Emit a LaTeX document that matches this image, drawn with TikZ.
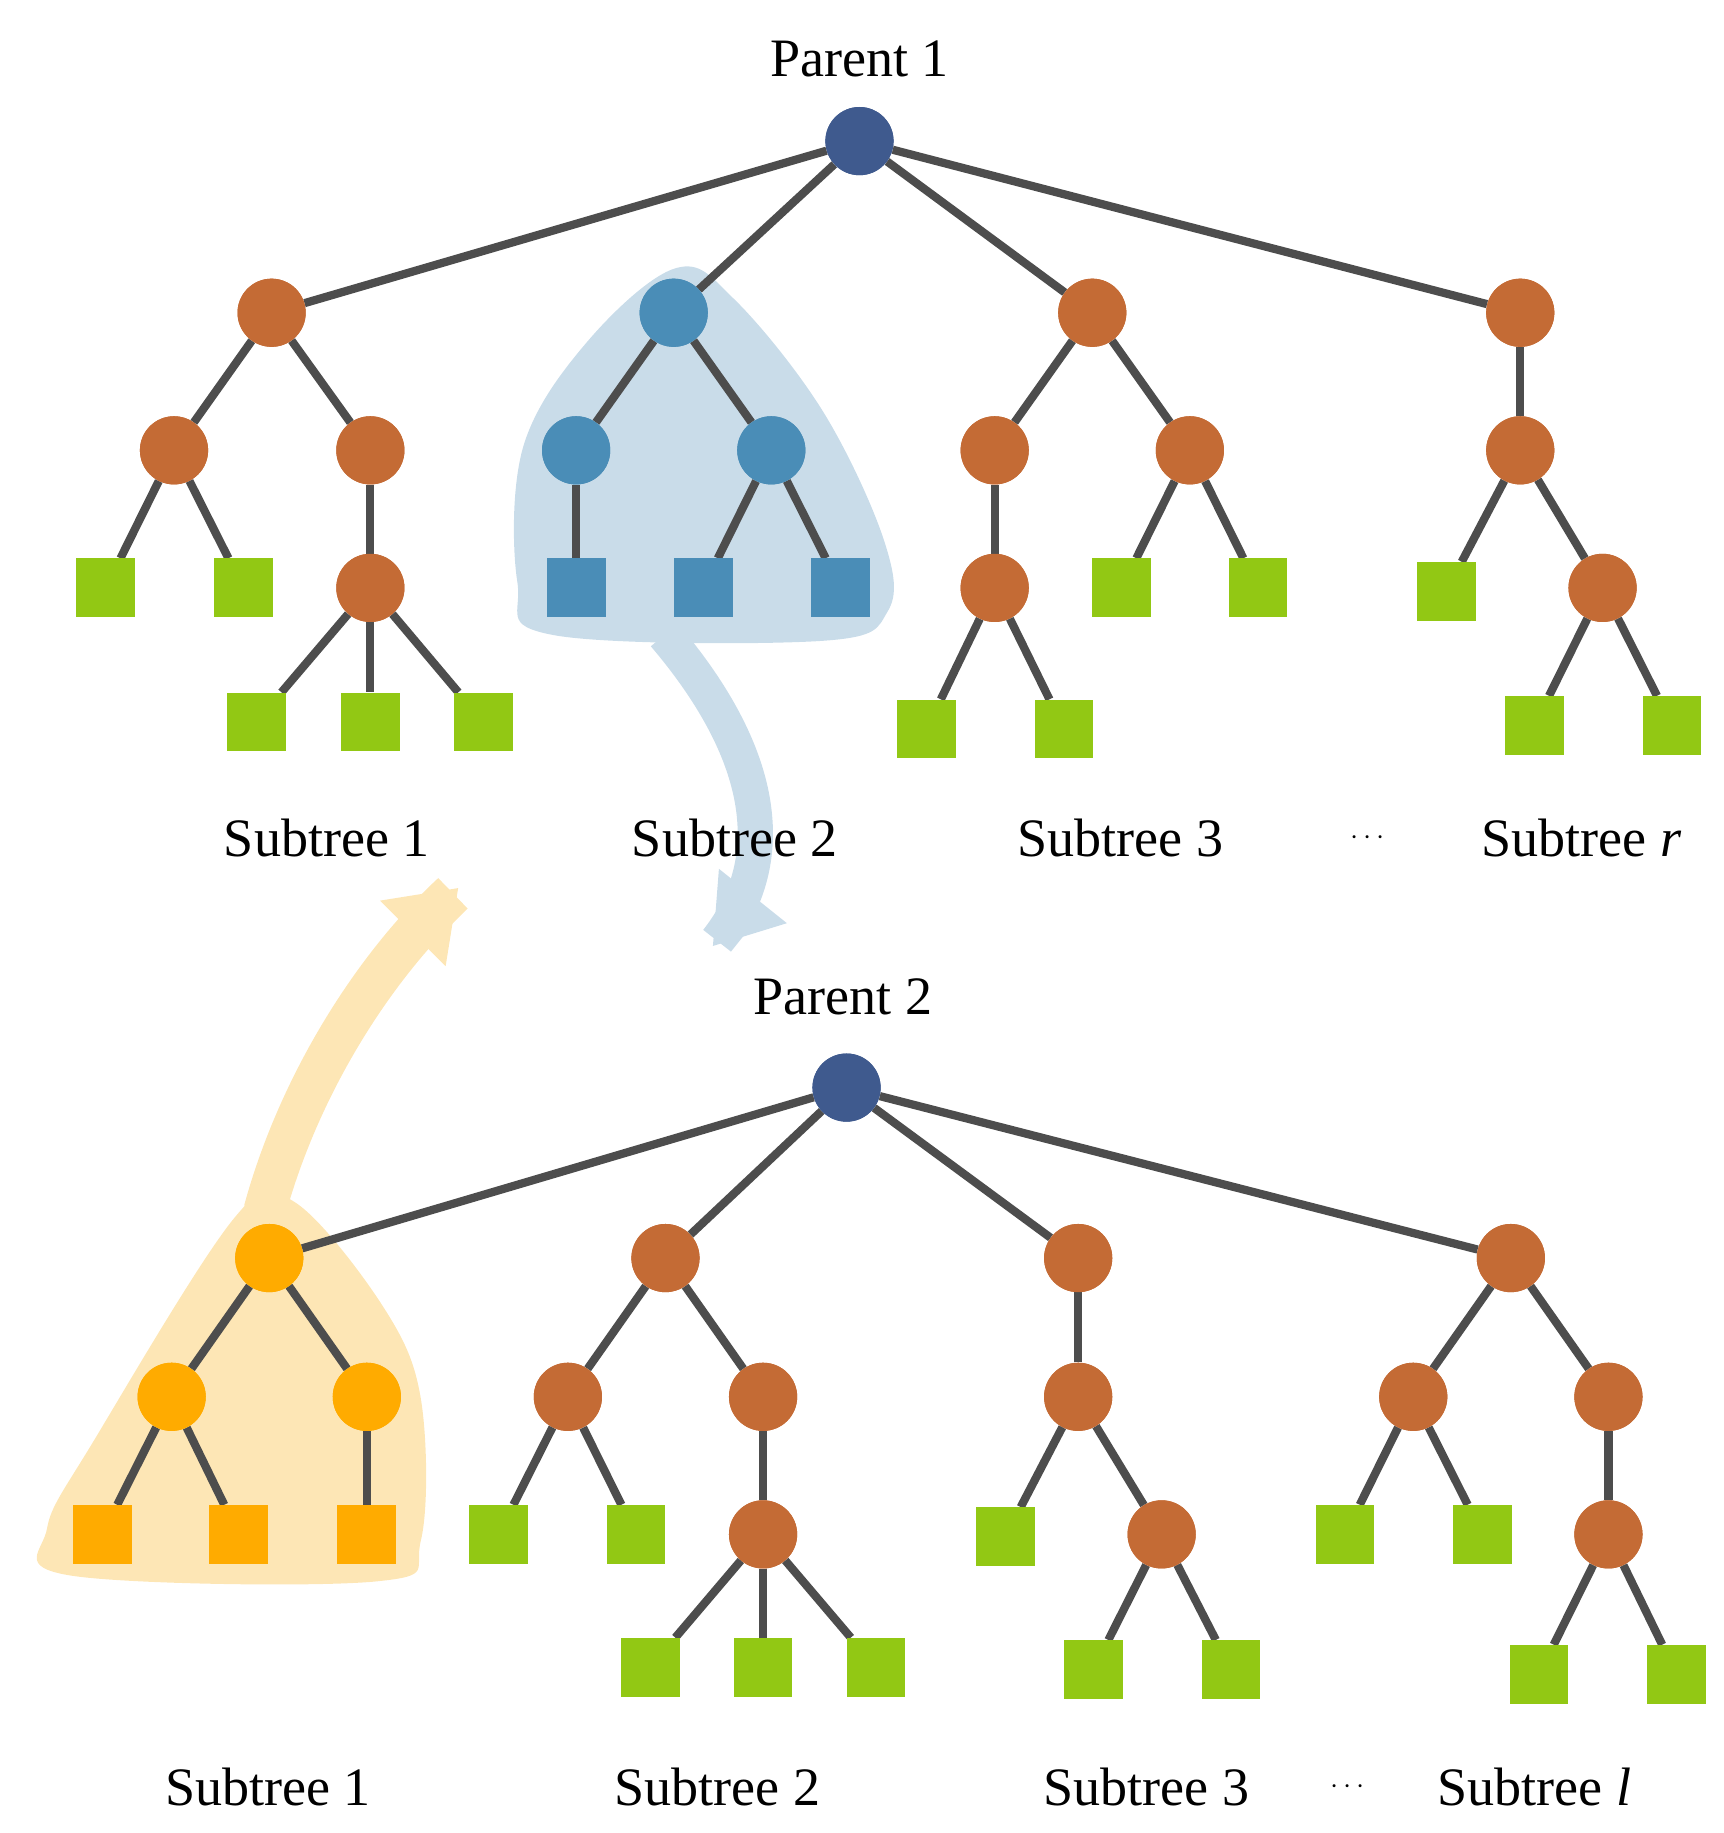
\documentclass[tikz,border=0pt]{standalone}
\usepackage{fontspec}
\setmainfont{Liberation Serif}
\usetikzlibrary{arrows.meta}
\definecolor{navy}{HTML}{3F5A8E}
\definecolor{brn}{HTML}{C46B35}
\definecolor{blu}{HTML}{4A8DB7}
\definecolor{grn}{HTML}{92C814}
\definecolor{org}{HTML}{FFAB00}
\definecolor{edg}{HTML}{4D4D4D}
\definecolor{lblu}{HTML}{C9DCE9}
\definecolor{lorg}{HTML}{FDE6B5}
\begin{document}
\begin{tikzpicture}[x=1pt,y=-1pt,
 c/.style={circle,fill=brn,minimum size=58pt,inner sep=0pt},
 s/.style={rectangle,fill=grn,minimum size=50pt,inner sep=0pt},
 e/.style={draw=edg,line width=7pt},
 lab/.style={font=\fontsize{46}{50}\selectfont,inner sep=0pt}]
\useasboundingbox (0,0) rectangle (1466,1559);
% highlights
\fill[lblu] plot[smooth cycle,tension=0.6] coordinates{(575,228)(625,255)(700,350)(752,460)(755,520)(700,545)(470,540)(440,495)(445,380)(500,290)};
\draw[lblu,line width=30pt,-{Triangle[width=70pt,length=55pt]}] (565,540) .. controls (650,640) and (665,730) .. (610,800) -- (606,805);
\fill[lorg] plot[smooth cycle,tension=0.6] coordinates{(250,1022)(325,1110)(358,1190)(358,1310)(320,1345)(60,1340)(40,1300)(80,1225)(200,1035)};
\draw[lorg,line width=36pt,-{Triangle[width=75pt,length=55pt]}] (225,1030) .. controls (255,920) and (320,820) .. (385,760) -- (390,755);
% top tree
\node[c,fill=navy] (P) at (731,120) {};
\node[lab] (t1) at (731,50) {Parent 1};
\node[c] (A) at (231,266) {}; \node[c,fill=blu] (B) at (573,266) {};
\node[c] (C) at (929,266) {}; \node[c] (D) at (1293,266) {};
\node[c] (A1) at (148,383) {}; \node[c] (A2) at (315,383) {}; \node[c] (A3) at (315,500) {};
\node[s] (a1) at (90,500) {}; \node[s] (a2) at (207,500) {};
\node[s] (a3) at (218,614) {}; \node[s] (a4) at (315,614) {}; \node[s] (a5) at (411,614) {};
\node[c,fill=blu] (B1) at (490,383) {}; \node[c,fill=blu] (B2) at (656,383) {};
\node[s,fill=blu] (b1) at (490,500) {}; \node[s,fill=blu] (b2) at (598,500) {}; \node[s,fill=blu] (b3) at (715,500) {};
\node[c] (C1) at (846,383) {}; \node[c] (C2) at (1012,383) {}; \node[c] (C3) at (846,500) {};
\node[s] (c1) at (788,620) {}; \node[s] (c2) at (905,620) {}; \node[s] (c3) at (954,500) {}; \node[s] (c4) at (1070,500) {};
\node[c] (D1) at (1293,383) {}; \node[c] (D2) at (1363,500) {};
\node[s] (d1) at (1230,503) {}; \node[s] (d2) at (1305,617) {}; \node[s] (d3) at (1422,617) {};
\begin{scope}[on background layer/.style={}]
\end{scope}
\foreach \u/\v in {P/A,P/B,P/C,P/D,A/A1,A/A2,A1/a1,A1/a2,A2/A3,A3/a3,A3/a4,A3/a5,B/B1,B/B2,B1/b1,B2/b2,B2/b3,C/C1,C/C2,C1/C3,C3/c1,C3/c2,C2/c3,C2/c4,D/D1,D1/d1,D1/D2,D2/d2,D2/d3}
  \draw[e] (\u) -- (\v);
\foreach \n in {P,A,B,C,D,A1,A2,A3,B1,B2,C1,C2,C3,D1,D2} \node[c,fill=none] at (\n) {};
\node[c,fill=navy] at (P) {}; \node[c] at (A) {}; \node[c,fill=blu] at (B) {}; \node[c] at (C) {}; \node[c] at (D) {};
\node[c] at (A1) {}; \node[c] at (A2) {}; \node[c] at (A3) {}; \node[c,fill=blu] at (B1) {}; \node[c,fill=blu] at (B2) {};
\node[c] at (C1) {}; \node[c] at (C2) {}; \node[c] at (C3) {}; \node[c] at (D1) {}; \node[c] at (D2) {};
\node[s] at (a1) {}; \node[s] at (a2) {}; \node[s] at (a3) {}; \node[s] at (a4) {}; \node[s] at (a5) {};
\node[s,fill=blu] at (b1) {}; \node[s,fill=blu] at (b2) {}; \node[s,fill=blu] at (b3) {};
\node[s] at (c1) {}; \node[s] at (c2) {}; \node[s] at (c3) {}; \node[s] at (c4) {};
\node[s] at (d1) {}; \node[s] at (d2) {}; \node[s] at (d3) {};
\node[lab] (l1) at (278,713) {Subtree 1}; \node[lab] (l2) at (625,713) {Subtree 2};
\node[lab] (l3) at (953,713) {Subtree 3}; \node[lab] (l4) at (1163,713) {$\cdots$};
\node[lab] (l5) at (1345,713) {Subtree \textit{r}};
% bottom tree
\node[lab] (t2) at (717,848) {Parent 2};
\node[c,fill=navy] (Q) at (720,925) {};
\node[c,fill=org] (E) at (229,1070) {}; \node[c] (F) at (566,1070) {}; \node[c] (G) at (917,1070) {}; \node[c] (H) at (1285,1070) {};
\node[c,fill=org] (E1) at (146,1188) {}; \node[c,fill=org] (E2) at (312,1188) {};
\node[s,fill=org] (e1) at (87,1305) {}; \node[s,fill=org] (e2) at (203,1305) {}; \node[s,fill=org] (e3) at (312,1305) {};
\node[c] (F1) at (483,1188) {}; \node[c] (F2) at (649,1188) {}; \node[c] (F3) at (649,1305) {};
\node[s] (f1) at (424,1305) {}; \node[s] (f2) at (541,1305) {};
\node[s] (f3) at (553,1418) {}; \node[s] (f4) at (649,1418) {}; \node[s] (f5) at (745,1418) {};
\node[c] (G1) at (917,1188) {}; \node[c] (G2) at (988,1305) {};
\node[s] (g1) at (855,1307) {}; \node[s] (g2) at (930,1420) {}; \node[s] (g3) at (1047,1420) {};
\node[c] (H1) at (1202,1188) {}; \node[c] (H2) at (1368,1188) {}; \node[c] (H3) at (1368,1305) {};
\node[s] (h1) at (1144,1305) {}; \node[s] (h2) at (1261,1305) {};
\node[s] (h3) at (1309,1424) {}; \node[s] (h4) at (1426,1424) {};
\foreach \u/\v in {Q/E,Q/F,Q/G,Q/H,E/E1,E/E2,E1/e1,E1/e2,E2/e3,F/F1,F/F2,F1/f1,F1/f2,F2/F3,F3/f3,F3/f4,F3/f5,G/G1,G1/g1,G1/G2,G2/g2,G2/g3,H/H1,H/H2,H1/h1,H1/h2,H2/H3,H3/h3,H3/h4}
  \draw[e] (\u) -- (\v);
\node[c,fill=navy] at (Q) {}; \node[c,fill=org] at (E) {}; \node[c] at (F) {}; \node[c] at (G) {}; \node[c] at (H) {};
\node[c,fill=org] at (E1) {}; \node[c,fill=org] at (E2) {}; \node[c] at (F1) {}; \node[c] at (F2) {}; \node[c] at (F3) {};
\node[c] at (G1) {}; \node[c] at (G2) {}; \node[c] at (H1) {}; \node[c] at (H2) {}; \node[c] at (H3) {};
\node[s,fill=org] at (e1) {}; \node[s,fill=org] at (e2) {}; \node[s,fill=org] at (e3) {};
\node[s] at (f1) {}; \node[s] at (f2) {}; \node[s] at (f3) {}; \node[s] at (f4) {}; \node[s] at (f5) {};
\node[s] at (g1) {}; \node[s] at (g2) {}; \node[s] at (g3) {};
\node[s] at (h1) {}; \node[s] at (h2) {}; \node[s] at (h3) {}; \node[s] at (h4) {};
\node[lab] (m1) at (228,1520) {Subtree 1}; \node[lab] (m2) at (610,1520) {Subtree 2};
\node[lab] (m3) at (975,1520) {Subtree 3}; \node[lab] (m4) at (1146,1520) {$\cdots$};
\node[lab] (m5) at (1305,1520) {Subtree \textit{l}};
\end{tikzpicture}
\end{document}
